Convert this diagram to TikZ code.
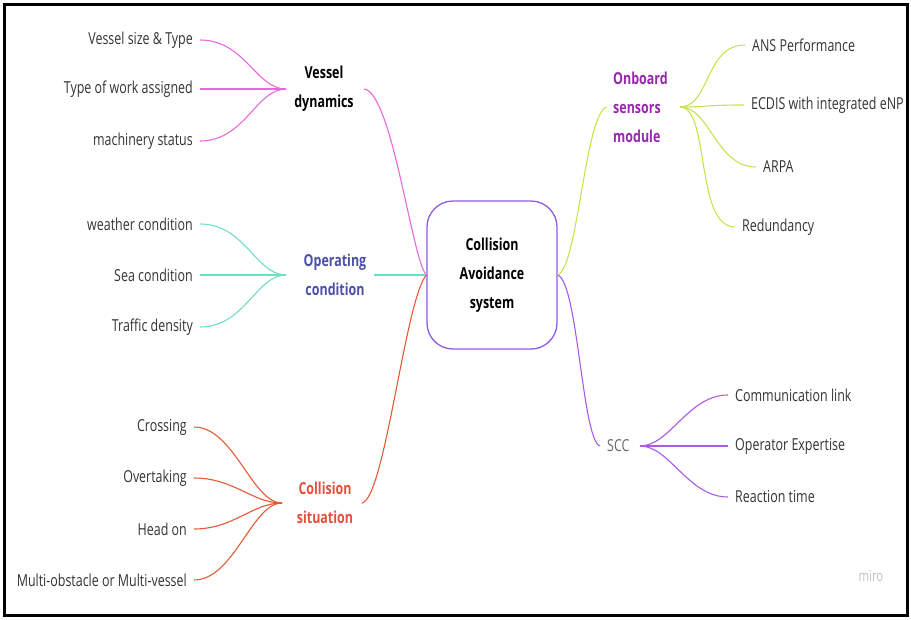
\documentclass[tikz,border=0pt]{standalone}
\usepackage{fontspec}
\setmainfont{Open Sans}[FakeStretch=0.755]
\begin{document}
\begin{tikzpicture}[x=1pt,y=-1pt,
  leaf/.style={font=\fontsize{16.5}{19}\selectfont, text=black!80, inner sep=0pt},
  hub/.style={font=\fontsize{16.5}{29}\selectfont\bfseries, align=center, inner sep=0pt},
  pinkc/.style={draw=pinkline, line width=1.1pt},
  tealc/.style={draw=tealline, line width=1.1pt},
  redc/.style={draw=redline, line width=1.1pt},
  limec/.style={draw=limeline, line width=1.1pt},
  purpc/.style={draw=purpline, line width=1.1pt}]
\definecolor{pinkline}{HTML}{E66AD9}
\definecolor{tealline}{HTML}{72DCC6}
\definecolor{redline}{HTML}{E25A36}
\definecolor{limeline}{HTML}{C9E24E}
\definecolor{purpline}{HTML}{A95BE3}
\definecolor{boxline}{HTML}{8E5BE3}
\definecolor{opblue}{HTML}{4C4FA6}
\definecolor{colred}{HTML}{E5503A}
\definecolor{onpurp}{HTML}{9A26B0}
\useasboundingbox (0,0) rectangle (911,619);
\draw[line width=3pt] (4,4) rectangle (907,615);
% centre
\node[draw=boxline, line width=1.3pt, rounded corners=26pt, minimum width=130pt, minimum height=148pt, hub, text=black] (cas) at (492,275) {Collision\\Avoidance\\system};
% Vessel dynamics
\node[hub, text=black] (vd) at (324,89) {Vessel\\dynamics};
\coordinate (jvd) at (286,89);
\node[leaf, anchor=east] (v1) at (193,40) {Vessel size \& Type};
\node[leaf, anchor=east] (v2) at (193,89) {Type of work assigned};
\node[leaf, anchor=east] (v3) at (193,141) {machinery status};
\foreach \n in {v1,v2,v3}
  \draw[pinkc] ([xshift=7pt]\n.east) .. controls +(45,0) and +(-30,0) .. (jvd);
\draw[pinkc] (364,89) .. controls (392,92) and (412,260) .. (cas.west);
% Operating condition
\node[hub, text=opblue] (oc) at (335,275) {Operating\\condition};
\coordinate (joc) at (286,275);
\node[leaf, anchor=east] (o1) at (193,224) {weather condition};
\node[leaf, anchor=east] (o2) at (193,275) {Sea condition};
\node[leaf, anchor=east] (o3) at (193,327) {Traffic density};
\foreach \n in {o1,o2,o3}
  \draw[tealc] ([xshift=7pt]\n.east) .. controls +(45,0) and +(-30,0) .. (joc);
\draw[tealc] (374,275) -- (cas.west);
% Collision situation
\node[hub, text=colred] (cs) at (325,503) {Collision\\situation};
\coordinate (jcs) at (282,503);
\node[leaf, anchor=east] (c1) at (187,427) {Crossing};
\node[leaf, anchor=east] (c2) at (187,478) {Overtaking};
\node[leaf, anchor=east] (c3) at (187,529) {Head on};
\node[leaf, anchor=east] (c4) at (187,580) {Multi-obstacle or Multi-vessel};
\foreach \n in {c1,c2,c3,c4}
  \draw[redc] ([xshift=7pt]\n.east) .. controls +(40,0) and +(-30,0) .. (jcs);
\draw[redc] (362,503) .. controls (385,498) and (405,300) .. (cas.west);
% Onboard sensors module
\node[hub, text=onpurp, align=left, anchor=west] (osm) at (613,107) {Onboard\\sensors\\module};
\coordinate (josm) at (680,107);
\node[leaf, anchor=west] (s1) at (752,45) {ANS Performance};
\node[leaf, anchor=west] (s2) at (751,105) {ECDIS with integrated eNP};
\node[leaf, anchor=west] (s3) at (763,167) {ARPA};
\node[leaf, anchor=west] (s4) at (742,227) {Redundancy};
\foreach \n in {s1,s2,s3,s4}
  \draw[limec] (josm) .. controls +(30,0) and +(-40,0) .. ([xshift=-7pt]\n.west);
\draw[limec] (cas.east) .. controls (578,268) and (585,112) .. (607,107);
% SCC
\node[leaf, text=black!60, anchor=west] (scc) at (607,446) {SCC};
\coordinate (jscc) at (640,446);
\node[leaf, anchor=west] (r1) at (735,395) {Communication link};
\node[leaf, anchor=west] (r2) at (735,446) {Operator Expertise};
\node[leaf, anchor=west] (r3) at (735,497) {Reaction time};
\foreach \n in {r1,r2,r3}
  \draw[purpc] (jscc) .. controls +(30,0) and +(-40,0) .. ([xshift=-7pt]\n.west);
\draw[purpc] (cas.east) .. controls (578,282) and (582,440) .. (600,446);
% watermark
\node[font=\fontsize{15}{17}\selectfont, text=black!25] (miro) at (871,576) {miro};
\end{tikzpicture}
\end{document}
